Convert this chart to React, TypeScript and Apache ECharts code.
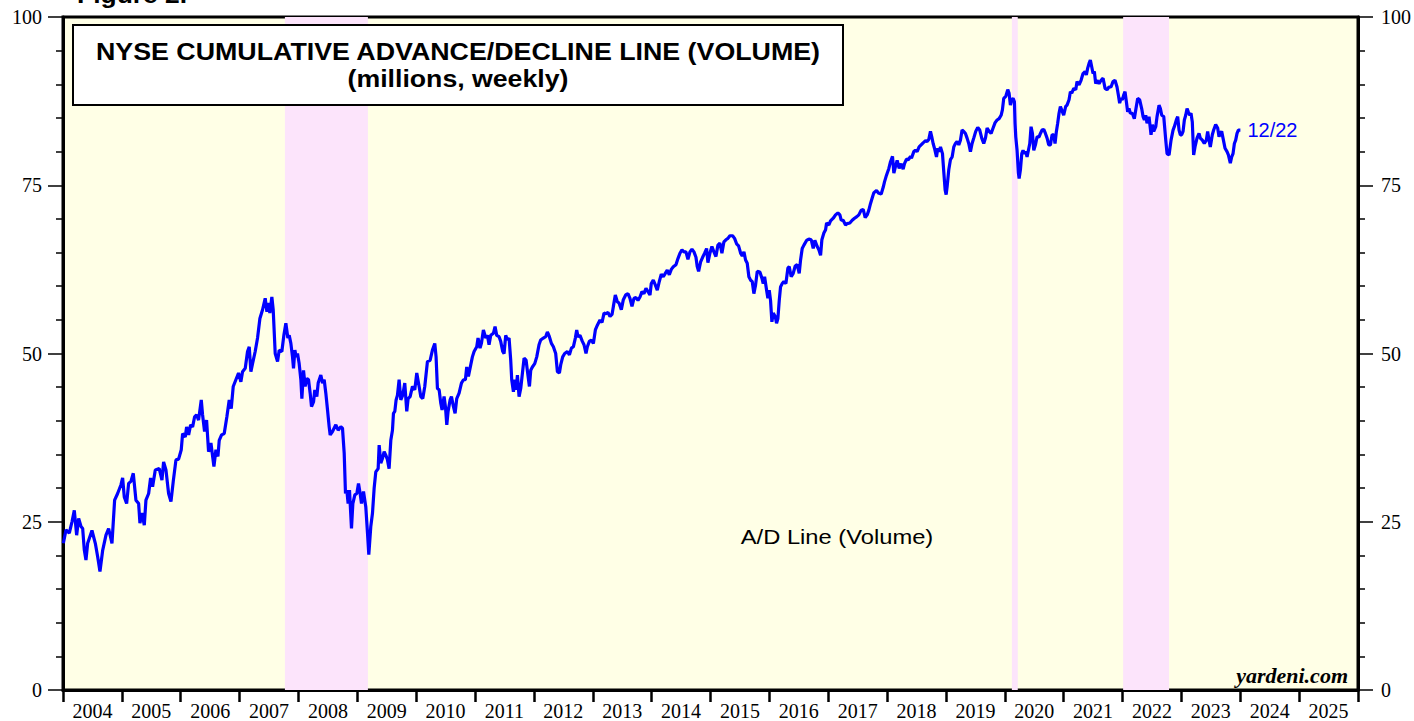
import React, { useEffect, useRef } from "react";
import * as echarts from "echarts";

// Year labels shown between the yearly ticks
const yearLabels = [
  "2004","2005","2006","2007","2008","2009","2010","2011","2012","2013","2014",
  "2015","2016","2017","2018","2019","2020","2021","2022","2023","2024","2025",
];

// Recession / shaded periods (decimal years)
const shadedPeriods: [number, number][] = [
  [2007.77, 2009.18],
  [2020.12, 2020.22],
  [2022.01, 2022.79],
];

// NYSE cumulative A/D line (volume), millions, weekly — [decimal year, value]
const ad2004to2007: [number, number][] = [
  [2004.006,21.8],[2004.051,23.8],[2004.107,23.3],[2004.153,25.0],[2004.192,26.7],[2004.232,23.0],[2004.266,25.5],[2004.306,24.3],[2004.334,24.0],[2004.362,20.8],[2004.390,19.3],[2004.419,21.8],[2004.492,23.7],[2004.549,21.8],[2004.589,19.8],[2004.628,17.6],[2004.673,20.7],[2004.730,23.0],[2004.775,24.0],[2004.832,21.8],[2004.877,28.2],[2004.928,29.2],[2004.985,30.5],[2005.013,31.5],[2005.041,28.7],[2005.081,27.7],[2005.115,30.7],[2005.154,31.0],[2005.194,32.2],[2005.239,28.2],[2005.285,27.7],[2005.307,24.8],[2005.341,26.3],[2005.381,24.5],[2005.409,28.2],[2005.455,29.2],[2005.488,31.5],[2005.522,30.2],[2005.568,32.7],[2005.635,32.9],[2005.681,31.2],[2005.709,33.9],[2005.749,32.7],[2005.794,29.2],[2005.834,28.0],[2005.873,31.0],[2005.919,34.2],[2005.964,34.3],[2006.009,35.7],[2006.032,38.1],[2006.077,37.6],[2006.100,39.1],[2006.134,37.9],[2006.168,39.4],[2006.202,39.1],[2006.236,40.6],[2006.269,40.9],[2006.303,40.1],[2006.349,43.1],[2006.371,40.9],[2006.405,38.4],[2006.439,40.1],[2006.473,35.4],[2006.513,36.7],[2006.564,33.2],[2006.598,35.7],[2006.632,34.7],[2006.654,37.1],[2006.694,37.9],[2006.739,38.1],[2006.784,40.6],[2006.824,43.1],[2006.858,41.8],[2006.892,45.1],[2006.937,46.1],[2006.982,47.1],[2007.022,45.8],[2007.050,47.3],[2007.096,47.8],[2007.135,50.3],[2007.164,51.0],[2007.192,47.3],[2007.220,48.5],[2007.265,50.3],[2007.305,52.3],[2007.345,55.2],[2007.390,56.5],[2007.435,58.2],[2007.464,56.2],[2007.492,57.5],[2007.514,56.0],[2007.548,58.4],[2007.571,56.5],[2007.605,50.0],[2007.645,48.8],[2007.673,50.5],[2007.718,50.3],[2007.752,52.7],[2007.786,54.5],[2007.820,52.3],
];

const ad2008to2010: [number, number][] = [
  [2007.843,52.7],[2007.871,51.5],[2007.899,49.5],[2007.916,47.8],[2007.939,50.5],[2007.961,49.5],[2007.984,50.0],[2008.012,48.5],[2008.041,46.1],[2008.058,43.3],[2008.086,47.5],[2008.114,45.1],[2008.143,46.3],[2008.171,46.1],[2008.199,44.1],[2008.222,42.1],[2008.256,42.8],[2008.278,44.6],[2008.312,43.6],[2008.335,45.6],[2008.380,46.8],[2008.409,45.6],[2008.437,46.1],[2008.465,44.1],[2008.494,41.6],[2008.522,39.1],[2008.539,37.9],[2008.578,38.4],[2008.635,39.4],[2008.675,38.6],[2008.720,39.1],[2008.748,38.9],[2008.777,35.2],[2008.799,29.2],[2008.822,29.7],[2008.844,27.7],[2008.867,29.7],[2008.901,24.0],[2008.924,27.7],[2008.958,29.0],[2008.992,29.2],[2009.020,30.7],[2009.048,29.2],[2009.071,27.7],[2009.105,29.5],[2009.144,27.2],[2009.173,23.3],[2009.195,20.1],[2009.229,24.3],[2009.258,26.3],[2009.286,30.0],[2009.314,32.4],[2009.354,32.9],[2009.371,36.4],[2009.399,33.7],[2009.427,34.4],[2009.456,35.4],[2009.484,34.9],[2009.512,34.2],[2009.540,32.9],[2009.569,37.1],[2009.597,38.6],[2009.614,41.1],[2009.637,41.4],[2009.659,43.1],[2009.682,43.8],[2009.710,46.1],[2009.739,43.1],[2009.772,43.8],[2009.806,45.6],[2009.840,41.4],[2009.863,43.3],[2009.897,43.6],[2009.937,45.1],[2009.976,44.6],[2010.010,47.1],[2010.050,45.1],[2010.078,43.6],[2010.112,43.3],[2010.146,45.1],[2010.191,48.8],[2010.237,49.0],[2010.276,50.5],[2010.316,51.5],[2010.338,49.5],[2010.361,44.8],[2010.390,44.6],[2010.418,42.6],[2010.440,41.6],[2010.474,43.6],[2010.497,42.1],[2010.520,39.4],[2010.542,41.4],[2010.576,43.1],[2010.599,43.6],[2010.633,42.1],[2010.661,41.1],[2010.689,43.3],[2010.729,44.1],[2010.769,45.6],[2010.803,46.1],[2010.836,46.1],[2010.859,48.0],[2010.887,46.6],[2010.927,48.3],
];

const ad2011to2015: [number, number][] = [
  [2010.955,49.5],[2010.984,50.3],[2011.029,51.0],[2011.051,52.3],[2011.085,50.8],[2011.108,51.5],[2011.142,53.5],[2011.182,52.3],[2011.210,52.7],[2011.238,51.3],[2011.267,52.7],[2011.312,53.0],[2011.340,54.0],[2011.368,52.7],[2011.408,52.5],[2011.436,51.8],[2011.470,50.3],[2011.493,50.0],[2011.521,52.7],[2011.550,52.0],[2011.578,52.3],[2011.606,49.0],[2011.623,46.1],[2011.652,44.3],[2011.674,46.1],[2011.697,44.6],[2011.720,46.8],[2011.748,43.6],[2011.776,44.8],[2011.810,47.5],[2011.833,49.3],[2011.867,49.0],[2011.901,46.6],[2011.924,45.1],[2011.946,47.5],[2011.974,48.0],[2012.014,48.5],[2012.048,49.5],[2012.087,51.3],[2012.115,52.0],[2012.161,52.3],[2012.200,52.5],[2012.229,53.2],[2012.263,52.5],[2012.297,51.5],[2012.331,51.0],[2012.370,50.0],[2012.399,47.3],[2012.433,47.1],[2012.455,48.3],[2012.489,49.5],[2012.523,50.0],[2012.569,50.3],[2012.603,49.8],[2012.637,50.8],[2012.670,51.0],[2012.704,52.3],[2012.727,53.5],[2012.749,52.5],[2012.783,52.7],[2012.823,51.8],[2012.851,51.3],[2012.885,50.0],[2012.908,51.0],[2012.942,51.8],[2012.976,52.0],[2013.010,51.5],[2013.044,53.5],[2013.078,54.2],[2013.123,55.0],[2013.157,54.6],[2013.191,56.0],[2013.225,55.9],[2013.259,56.1],[2013.293,55.5],[2013.327,55.8],[2013.350,57.0],[2013.383,58.7],[2013.417,57.7],[2013.446,57.5],[2013.485,56.5],[2013.519,58.0],[2013.559,58.7],[2013.598,58.9],[2013.632,58.2],[2013.666,57.0],[2013.700,58.2],[2013.734,58.3],[2013.768,57.9],[2013.802,58.4],[2013.836,59.2],[2013.870,58.9],[2013.904,59.7],[2013.938,59.2],[2013.972,58.7],[2013.994,60.4],[2014.028,60.9],[2014.062,60.2],[2014.096,59.4],[2014.130,60.7],[2014.164,61.8],[2014.198,61.4],[2014.232,61.9],[2014.266,62.4],[2014.300,61.7],[2014.334,62.5],[2014.368,62.9],[2014.413,63.2],[2014.447,64.1],[2014.481,64.9],[2014.515,65.4],[2014.549,65.1],[2014.583,65.1],[2014.617,64.0],[2014.651,65.1],[2014.685,65.5],[2014.719,65.1],[2014.753,64.3],[2014.775,62.9],[2014.798,62.2],[2014.832,63.6],[2014.866,64.3],[2014.900,64.9],[2014.934,65.6],[2014.956,63.5],[2014.990,64.9],[2015.024,65.9],[2015.058,65.1],[2015.092,64.4],[2015.126,66.1],[2015.160,66.4],[2015.194,64.9],[2015.228,66.6],[2015.262,66.9],[2015.296,67.1],[2015.330,67.5],[2015.375,67.5],[2015.409,67.1],[2015.443,66.3],[2015.477,66.0],[2015.506,65.1],
];

const ad2015to2018: [number, number][] = [
  [2015.511,64.9],[2015.539,64.5],[2015.568,65.1],[2015.596,63.9],[2015.624,63.4],[2015.652,61.4],[2015.681,60.9],[2015.709,60.7],[2015.737,58.9],[2015.766,60.2],[2015.794,62.2],[2015.839,62.1],[2015.873,61.2],[2015.896,60.4],[2015.919,61.4],[2015.953,59.4],[2015.975,58.2],[2015.998,59.4],[2016.020,57.9],[2016.043,54.7],[2016.066,56.0],[2016.100,55.5],[2016.122,54.5],[2016.145,55.2],[2016.168,57.9],[2016.190,59.9],[2016.219,60.4],[2016.247,60.7],[2016.281,60.4],[2016.315,62.7],[2016.337,62.9],[2016.371,61.4],[2016.405,61.9],[2016.439,63.0],[2016.473,63.2],[2016.507,61.9],[2016.530,63.9],[2016.558,65.6],[2016.587,66.1],[2016.632,66.8],[2016.671,67.0],[2016.711,66.9],[2016.745,65.6],[2016.773,66.8],[2016.813,65.9],[2016.841,65.4],[2016.870,64.6],[2016.892,66.9],[2016.926,67.9],[2016.955,68.4],[2016.972,69.4],[2017.011,69.1],[2017.039,69.7],[2017.085,70.1],[2017.124,70.6],[2017.164,70.9],[2017.198,70.6],[2017.220,69.8],[2017.254,69.8],[2017.294,69.1],[2017.322,69.3],[2017.367,69.4],[2017.407,69.8],[2017.447,70.1],[2017.481,70.3],[2017.520,70.6],[2017.560,71.3],[2017.594,71.4],[2017.628,70.2],[2017.662,70.6],[2017.690,71.3],[2017.719,72.3],[2017.747,73.1],[2017.775,73.9],[2017.820,74.2],[2017.860,73.8],[2017.900,73.7],[2017.934,74.7],[2017.956,75.5],[2017.990,76.5],[2018.030,77.5],[2018.058,78.5],[2018.092,79.3],[2018.115,76.8],[2018.143,77.8],[2018.171,78.7],[2018.205,77.5],[2018.239,78.2],[2018.273,77.4],[2018.296,78.2],[2018.330,78.9],[2018.364,78.8],[2018.398,79.3],
];

const ad2018to2020: [number, number][] = [
  [2018.414,79.0],[2018.454,80.0],[2018.482,80.2],[2018.510,80.0],[2018.544,80.7],[2018.578,81.0],[2018.612,81.3],[2018.652,81.6],[2018.680,81.5],[2018.708,81.8],[2018.737,83.0],[2018.759,82.2],[2018.782,81.2],[2018.805,80.5],[2018.839,79.2],[2018.861,80.5],[2018.884,80.0],[2018.907,80.7],[2018.941,79.7],[2018.963,77.0],[2018.986,74.3],[2019.003,73.6],[2019.020,74.8],[2019.048,77.3],[2019.076,78.8],[2019.105,79.2],[2019.133,80.7],[2019.161,81.2],[2019.189,81.5],[2019.218,81.0],[2019.246,81.7],[2019.274,83.2],[2019.303,83.0],[2019.331,82.7],[2019.359,82.0],[2019.387,81.2],[2019.416,80.0],[2019.444,81.2],[2019.472,82.0],[2019.506,83.0],[2019.540,83.6],[2019.574,83.2],[2019.608,82.0],[2019.642,81.2],[2019.671,82.0],[2019.699,83.5],[2019.733,83.0],[2019.767,82.7],[2019.801,83.5],[2019.835,84.3],[2019.869,84.7],[2019.903,84.9],[2019.937,85.4],[2019.959,86.2],[2019.982,87.9],[2020.016,88.2],[2020.050,89.2],[2020.072,88.7],[2020.095,86.9],[2020.118,87.7],[2020.141,87.9],[2020.163,87.4],[2020.174,84.2],[2020.186,82.2],[2020.208,80.2],[2020.231,76.8],[2020.243,76.0],[2020.265,77.3],[2020.288,79.7],[2020.310,80.2],[2020.333,79.7],[2020.356,80.0],[2020.378,79.2],[2020.401,80.2],[2020.424,81.2],[2020.446,83.7],[2020.469,82.7],[2020.492,80.2],[2020.520,81.0],[2020.548,82.2],[2020.582,82.2],[2020.605,82.7],[2020.633,83.2],[2020.662,83.3],[2020.690,82.7],[2020.718,82.0],[2020.746,81.0],[2020.775,81.0],
];

const ad2020to2023: [number, number][] = [
  [2020.803,82.5],[2020.831,82.5],[2020.853,81.2],[2020.876,83.0],[2020.898,84.2],[2020.921,85.7],[2020.944,86.7],[2020.966,86.2],[2021.000,85.4],[2021.034,86.7],[2021.057,86.9],[2021.091,87.7],[2021.114,88.9],[2021.137,88.7],[2021.171,89.4],[2021.205,89.2],[2021.227,90.4],[2021.261,89.9],[2021.295,90.6],[2021.329,91.6],[2021.363,91.9],[2021.385,91.4],[2021.408,92.4],[2021.431,93.1],[2021.453,93.6],[2021.476,92.6],[2021.499,91.6],[2021.521,91.9],[2021.544,90.1],[2021.567,90.6],[2021.601,90.1],[2021.635,90.6],[2021.669,90.9],[2021.703,89.4],[2021.736,89.2],[2021.770,89.6],[2021.804,89.6],[2021.838,90.4],[2021.872,90.6],[2021.906,89.6],[2021.929,88.4],[2021.951,87.2],[2021.974,87.9],[2021.997,87.7],[2022.019,88.4],[2022.042,88.9],[2022.065,87.4],[2022.087,85.9],[2022.110,86.4],[2022.133,85.7],[2022.166,85.7],[2022.200,84.9],[2022.234,86.7],[2022.257,87.9],[2022.291,87.7],[2022.325,86.4],[2022.349,85.2],[2022.371,84.7],[2022.394,85.4],[2022.416,84.2],[2022.450,85.2],[2022.484,82.5],[2022.507,84.0],[2022.530,83.0],[2022.564,83.7],[2022.586,85.2],[2022.620,86.9],[2022.643,86.4],[2022.666,85.4],[2022.700,85.2],[2022.734,81.7],[2022.756,79.7],[2022.790,79.5],[2022.824,81.7],[2022.858,83.2],[2022.880,83.7],[2022.914,84.7],[2022.937,85.2],[2022.960,83.2],[2022.982,82.5],[2023.005,82.5],[2023.028,83.0],[2023.050,84.7],[2023.073,85.4],[2023.096,86.4],[2023.117,85.9],[2023.140,85.4],[2023.163,85.7],[2023.185,84.4],[2023.208,79.5],[2023.231,80.7],[2023.265,82.0],[2023.299,82.7],[2023.321,82.0],[2023.355,81.7],[2023.389,81.2],[2023.423,81.7],[2023.446,83.0],[2023.469,81.7],[2023.491,80.7],[2023.525,82.5],[2023.548,83.2],[2023.582,84.0],[2023.616,83.5],[2023.639,82.2],[2023.661,82.7],[2023.684,83.0],[2023.707,82.0],[2023.741,80.5],[2023.775,80.0],[2023.798,79.5],[2023.831,78.3],[2023.854,79.2],[2023.877,79.7],[2023.900,81.2],[2023.922,81.7],[2023.945,82.7],[2023.968,83.2],[2024.002,83.2],
];

const adLine = [
  ...ad2004to2007,
  ...ad2008to2010,
  ...ad2011to2015,
  ...ad2015to2018,
  ...ad2018to2020,
  ...ad2020to2023,
];

const SANS = "'Liberation Sans', Arial, sans-serif";
const SERIF = "'Liberation Serif', 'Times New Roman', serif";

export default function App() {
  const ref = useRef<HTMLDivElement>(null);

  useEffect(() => {
    document.body.style.margin = "0";
    if (!ref.current) return;
    const chart = echarts.init(ref.current, undefined, { renderer: "svg" });

    const yAxisBase = {
      type: "value" as const,
      min: 0,
      max: 100,
      interval: 25,
      axisLine: { show: true, lineStyle: { color: "#000", width: 3 } },
      axisTick: { show: true, inside: false, length: 15, lineStyle: { color: "#000", width: 1.5 } },
      minorTick: { show: true, splitNumber: 5, length: 7, lineStyle: { color: "#000", width: 1.5 } },
      splitLine: { show: false },
      minorSplitLine: { show: false },
    };

    chart.setOption({
      animation: false,
      backgroundColor: "#ffffff",
      grid: {
        left: 63,
        right: 56,
        top: 17,
        bottom: 31,
        show: true,
        backgroundColor: "#FFFFE6",
        borderColor: "#000",
        borderWidth: 3,
      },
      xAxis: [
        {
          type: "value",
          min: 2004,
          max: 2026,
          interval: 1,
          position: "bottom",
          axisLine: { show: true, lineStyle: { color: "#000", width: 3 } },
          axisTick: { show: true, inside: false, length: 12, lineStyle: { color: "#000", width: 2.5 } },
          axisLabel: { show: false },
          splitLine: { show: false },
        },
        {
          type: "category",
          data: yearLabels,
          position: "bottom",
          boundaryGap: true,
          axisLine: { show: false },
          axisTick: { show: false },
          axisLabel: { show: true, color: "#000", fontFamily: SERIF, fontSize: 20, margin: 11 },
          splitLine: { show: false },
        },
      ],
      yAxis: [
        {
          ...yAxisBase,
          position: "left",
          axisLabel: { color: "#000", fontFamily: SERIF, fontSize: 20, margin: 21 },
        },
        {
          ...yAxisBase,
          position: "right",
          axisLabel: { color: "#000", fontFamily: SERIF, fontSize: 20, margin: 23 },
        },
      ],
      series: [
        {
          type: "line",
          xAxisIndex: 0,
          yAxisIndex: 0,
          data: adLine,
          showSymbol: false,
          symbol: "none",
          lineStyle: { color: "#0000FF", width: 3.2 },
          z: 5,
          endLabel: {
            show: true,
            formatter: "12/22",
            color: "#0000FF",
            fontFamily: SANS,
            fontSize: 20,
            distance: 7,
          },
          markArea: {
            silent: true,
            itemStyle: { color: "#FCE4FB" },
            data: shadedPeriods.map(([a, b]) => [{ xAxis: a }, { xAxis: b }]),
          },
        },
      ],
      graphic: [
        {
          type: "text",
          x: 77,
          y: -5,
          scaleX: 1.15,
          style: { text: "Figure 2.", font: `bold 23px ${SANS}`, fill: "#000", align: "left", verticalAlign: "middle" },
        },
        {
          type: "rect",
          shape: { x: 73, y: 25, width: 770, height: 80 },
          style: { fill: "#ffffff", stroke: "#000", lineWidth: 2 },
          z: 10,
        },
        {
          type: "text",
          x: 458,
          y: 52,
          scaleX: 1.165,
          z: 11,
          style: {
            text: "NYSE CUMULATIVE ADVANCE/DECLINE LINE (VOLUME)",
            font: `bold 23px ${SANS}`,
            fill: "#000",
            align: "center",
            verticalAlign: "middle",
          },
        },
        {
          type: "text",
          x: 458,
          y: 79,
          scaleX: 1.16,
          z: 11,
          style: {
            text: "(millions, weekly)",
            font: `bold 23px ${SANS}`,
            fill: "#000",
            align: "center",
            verticalAlign: "middle",
          },
        },
        {
          type: "text",
          x: 837,
          y: 537,
          scaleX: 1.13,
          z: 11,
          style: {
            text: "A/D Line (Volume)",
            font: `21px ${SANS}`,
            fill: "#000",
            align: "center",
            verticalAlign: "middle",
          },
        },
        {
          type: "text",
          x: 1348,
          y: 675,
          z: 11,
          style: {
            text: "yardeni.com",
            font: `italic bold 22px ${SERIF}`,
            fill: "#000",
            align: "right",
            verticalAlign: "middle",
          },
        },
      ],
    });

    return () => chart.dispose();
  }, []);

  return (
    <div
      ref={ref}
      style={{ position: "absolute", left: 0, top: 0, width: 1414, height: 721 }}
    />
  );
}
